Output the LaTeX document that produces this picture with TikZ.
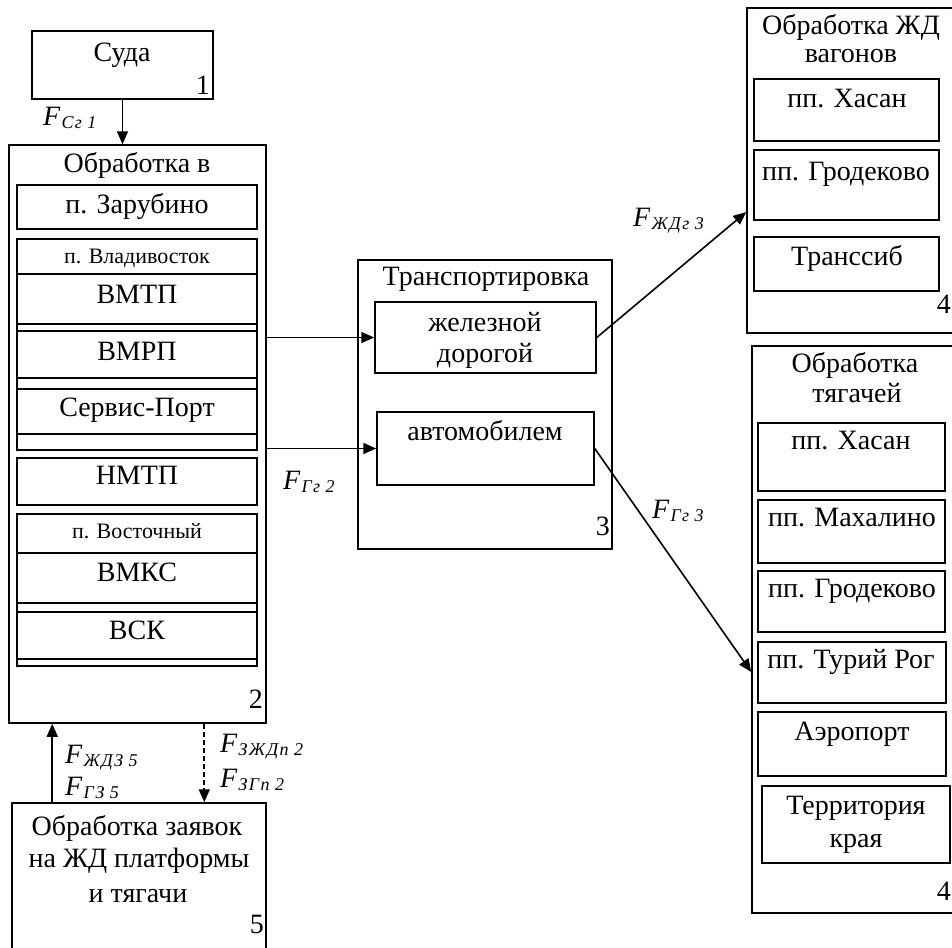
\documentclass[tikz,border=0pt]{standalone}
\usepackage{fontspec}
\setmainfont{Liberation Serif}
\usetikzlibrary{arrows.meta,fit}

\newcommand{\flow}[2]{\textit{F}\kern1pt\raisebox{-3pt}{\fontsize{18}{18}\selectfont\addfontfeatures{LetterSpace=8}\textit{#1}}\kern4pt\raisebox{-3pt}{\fontsize{18}{18}\selectfont\textit{#2}}}

\begin{document}
\begin{tikzpicture}[x=1pt,y=-1pt,
  box/.style={draw,line width=1.5pt,inner sep=0pt},
  arr/.style={line width=1.6pt,-{Triangle[length=13pt,width=11pt]}},
  txt/.style={font=\fontsize{28}{30}\selectfont,inner sep=0pt,anchor=base},
  small/.style={font=\fontsize{22}{24}\selectfont,inner sep=0pt,anchor=base},
  num/.style={font=\fontsize{28}{28}\selectfont,inner sep=0pt,anchor=base east},
  lbl/.style={font=\fontsize{28}{28}\selectfont,inner sep=0pt,anchor=base west}]
  \useasboundingbox (0,0) rectangle (952,947);
  % boxes
  \node[box,fit={(32,31) (213,99)}] (suda) {};
  \node[box,fit={(9,145) (266,723)}] (obrab) {};
  \node[box,fit={(17,185) (257,229)}] (zarub) {};
  \node[box,fit={(17,239) (257,450)}] (vlad) {};
  \node[box,fit={(17,274) (257,324)}] (vmtp) {};
  \node[box,fit={(17,331) (257,378)}] (vmrp) {};
  \node[box,fit={(17,389) (257,434)}] (servis) {};
  \node[box,fit={(17,458) (257,505)}] (nmtp) {};
  \node[box,fit={(17,514) (257,666)}] (vost) {};
  \node[box,fit={(17,553) (257,603)}] (vmks) {};
  \node[box,fit={(17,612) (257,659)}] (vsk) {};
  \node[box,fit={(358,260) (612,549)}] (transp) {};
  \node[box,fit={(375,302) (596,373)}] (zhd) {};
  \node[box,fit={(377,412) (594,485)}] (avto) {};
  \node[box,fit={(747,8) (958,333)}] (vagony) {};
  \node[box,fit={(754,79) (939,141)}] (hasanA) {};
  \node[box,fit={(754,150) (939,220)}] (grodA) {};
  \node[box,fit={(754,237) (939,291)}] (transsib) {};
  \node[box,fit={(752,346) (962,913)}] (tyag) {};
  \node[box,fit={(758,423) (945,491)}] (hasanB) {};
  \node[box,fit={(758,500) (945,563)}] (mahal) {};
  \node[box,fit={(758,571) (945,632)}] (grodB) {};
  \node[box,fit={(758,642) (946,703)}] (turiy) {};
  \node[box,fit={(758,712) (946,776)}] (aero) {};
  \node[box,fit={(762,786) (950,863)}] (krai) {};
  \node[box,fit={(12,803) (266,962)}] (zayav) {};
  % texts
  \node[txt] (tsuda) at (122,62) {Суда};
  \node[num] (n1) at (210,95) {1};
  \node[txt] (tobrab) at (137,172) {Обработка в};
  \node[txt] (tzarub) at (137,213) {п. Зарубино};
  \node[small] (tvlad) at (137,263) {п. Владивосток};
  \node[txt] (tvmtp) at (137,303) {ВМТП};
  \node[txt] (tvmrp) at (137,360) {ВМРП};
  \node[txt] (tservis) at (137,416) {Сервис-Порт};
  \node[txt] (tnmtp) at (137,484) {НМТП};
  \node[small] (tvost) at (137,538) {п. Восточный};
  \node[txt] (tvmks) at (137,581) {ВМКС};
  \node[txt] (tvsk) at (137,639) {ВСК};
  \node[num] (n2) at (263,708) {2};
  \node[txt] (ttransp) at (486,285) {Транспортировка};
  \node[txt] (tzhd1) at (485,331) {железной};
  \node[txt] (tzhd2) at (485,362) {дорогой};
  \node[txt] (tavto) at (485,440) {автомобилем};
  \node[num] (n3) at (610,535) {3};
  \node[txt] (tvag1) at (851,35) {Обработка ЖД};
  \node[txt] (tvag2) at (851,63) {вагонов};
  \node[txt] (thasanA) at (847,107) {пп. Хасан};
  \node[txt] (tgrodA) at (846,180) {пп. Гродеково};
  \node[txt] (ttranssib) at (847,265) {Транссиб};
  \node[num] (n4a) at (951,313) {4};
  \node[txt] (ttyag1) at (855,372) {Обработка};
  \node[txt] (ttyag2) at (857,402) {тягачей};
  \node[txt] (thasanB) at (851,449) {пп. Хасан};
  \node[txt] (tmahal) at (852,526) {пп. Махалино};
  \node[txt] (tgrodB) at (852,597) {пп. Гродеково};
  \node[txt] (tturiy) at (851,668) {пп. Турий Рог};
  \node[txt] (taero) at (852,740) {Аэропорт};
  \node[txt] (tkrai1) at (856,814) {Территория};
  \node[txt] (tkrai2) at (856,847) {края};
  \node[num] (n4b) at (951,900) {4};
  \node[txt] (tzayav1) at (137,835) {Обработка заявок};
  \node[txt] (tzayav2) at (139,867) {на ЖД платформы};
  \node[txt] (tzayav3) at (138,902) {и тягачи};
  \node[num] (n5) at (264,933) {5};
  % flow labels
  \node[lbl] (f1) at (43,125) {\flow{Сг}{1}};
  \node[lbl] (f2) at (283,489) {\flow{Гг}{2}};
  \node[lbl] (f3a) at (633,226) {\flow{ЖДг}{3}};
  \node[lbl] (f3b) at (652,518) {\flow{Гг}{3}};
  \node[lbl] (f5a) at (65,763) {\flow{ЖДЗ}{5}};
  \node[lbl] (f5b) at (65,795) {\flow{ГЗ}{5}};
  \node[lbl] (f2a) at (220,752) {\flow{ЗЖДп}{2}};
  \node[lbl] (f2b) at (220,787) {\flow{ЗГп}{2}};
  % connectors
  \draw[arr] (suda.south) -- (suda.south |- obrab.north);
  \draw[arr] (obrab.east |- zhd.west) -- (zhd.west);
  \draw[arr] (obrab.east |- avto.west) -- (avto.west);
  \draw[arr] (zhd.east) -- ([yshift=-41.5pt]vagony.west);
  \draw[arr] (avto.east) -- ([yshift=-42.5pt]tyag.west);
  \draw[arr] ([xshift=41pt]zayav.north west) -- ([xshift=41pt]zayav.north west |- obrab.south);
  \draw[arr,dash pattern=on 5pt off 3pt] ([xshift=193pt]zayav.north west |- obrab.south) -- ([xshift=193pt]zayav.north west);
\end{tikzpicture}
\end{document}
